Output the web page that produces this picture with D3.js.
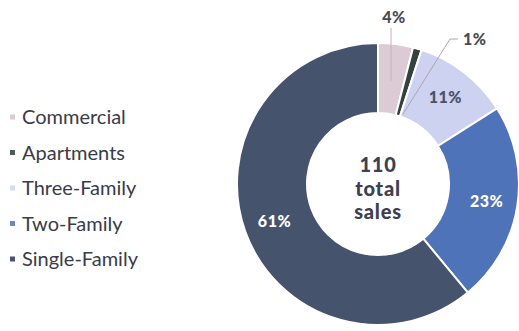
<!DOCTYPE html>
<html>
<head>
<meta charset="utf-8">
<script src="https://cdn.jsdelivr.net/npm/d3@7"></script>
<style>
  html, body { margin: 0; padding: 0; background: #fff; }
  svg { display: block; }
</style>
</head>
<body>
<svg id="chart" width="519" height="331"></svg>
<script>
// Property sales by type (share of total, %)
const categories = ["Commercial", "Apartments", "Three-Family", "Two-Family", "Single-Family"];
const shares = [4, 1, 11, 23, 61];
const shareLabels = ["4%", "1%", "11%", "23%", "61%"];
const sliceColors = ["#dccad4", "#34413d", "#cdd2f0", "#4f73b9", "#46536d"];
const legendColors = ["#dccad4", "#4d5b55", "#d6d9f2", "#6b86c4", "#4a5470"];
const labelColors = ["#4a4a52", "#4a4a52", "#4a5068", "#ffffff", "#ffffff"];
const totalSales = 110;
const centerLines = [String(totalSales), "total", "sales"];

const svg = d3.select("#chart");
const cx = 378, cy = 184;
const outerR = 141, innerR = 71;

const pie = d3.pie().sort(null).value(d => d);
const arcs = pie(shares);
const arc = d3.arc().innerRadius(innerR).outerRadius(outerR);

const g = svg.append("g").attr("transform", `translate(${cx},${cy})`);

g.selectAll("path.slice")
  .data(arcs)
  .join("path")
  .attr("class", "slice")
  .attr("d", arc)
  .attr("fill", (d, i) => sliceColors[i])
  .attr("stroke", "#fff")
  .attr("stroke-width", 2)
  .attr("stroke-linejoin", "miter");

const pctFont = { family: "Lato, sans-serif", weight: 900, size: 16 };

// in-slice percentage labels for the larger slices
const labelArc = d3.arc().innerRadius(110).outerRadius(110);
const inside = [2, 3, 4];
g.selectAll("text.inside")
  .data(inside)
  .join("text")
  .attr("class", "inside")
  .attr("transform", i => `translate(${labelArc.centroid(arcs[i])})`)
  .attr("text-anchor", "middle")
  .attr("dy", "0.36em")
  .attr("font-family", pctFont.family)
  .attr("font-weight", pctFont.weight)
  .attr("font-size", pctFont.size)
  .attr("letter-spacing", 0.5)
  .attr("fill", i => labelColors[i])
  .text(i => shareLabels[i]);

// outside labels with leader lines for the thin slices
const pt = (angle, r) => [r * Math.sin(angle), -r * Math.cos(angle)];
const mid = d => (d.startAngle + d.endAngle) / 2;

// Commercial: vertical leader
{
  const a = arcs[0];
  const p0 = pt(mid(a), 104);
  g.append("path")
    .attr("d", d3.line()([p0, [p0[0], -outerR - 15]]))
    .attr("fill", "none")
    .attr("stroke", "#c9aeb9")
    .attr("stroke-width", 1);
  g.append("text")
    .attr("x", p0[0] + 3)
    .attr("y", -outerR - 20)
    .attr("text-anchor", "middle")
    .attr("font-family", pctFont.family)
    .attr("font-weight", pctFont.weight)
    .attr("font-size", pctFont.size)
    .attr("letter-spacing", 0.5)
    .attr("fill", labelColors[0])
    .text(shareLabels[0]);
}
// Apartments: angled leader with a short hook
{
  const a = arcs[1];
  const p0 = pt(mid(a) + 0.06, 74);
  const p1 = [72, -outerR - 4];
  const p2 = [p1[0] + 8, p1[1]];
  g.append("path")
    .attr("d", d3.line()([p0, p1, p2]))
    .attr("fill", "none")
    .attr("stroke", "#a9a9ad")
    .attr("stroke-width", 1);
  g.append("text")
    .attr("x", p2[0] + 5)
    .attr("y", p2[1])
    .attr("dy", "0.36em")
    .attr("text-anchor", "start")
    .attr("font-family", pctFont.family)
    .attr("font-weight", pctFont.weight)
    .attr("font-size", pctFont.size)
    .attr("letter-spacing", 0.5)
    .attr("fill", labelColors[1])
    .text(shareLabels[1]);
}

// centre total
g.selectAll("text.center")
  .data(centerLines)
  .join("text")
  .attr("class", "center")
  .attr("x", 0)
  .attr("y", (d, i) => -19 + i * 23.5)
  .attr("dy", "0.36em")
  .attr("text-anchor", "middle")
  .attr("font-family", "Lato, sans-serif")
  .attr("font-weight", 900)
  .attr("font-size", 20)
  .attr("letter-spacing", 0.8)
  .attr("fill", "#3d4050")
  .text(d => d);

// legend
const legend = svg.append("g").attr("transform", "translate(10,117)");
const rowH = 35.5;
const rows = legend.selectAll("g.row")
  .data(categories)
  .join("g")
  .attr("class", "row")
  .attr("transform", (d, i) => `translate(0,${i * rowH})`);
rows.append("rect")
  .attr("x", 0).attr("y", -2.5)
  .attr("width", 5).attr("height", 5)
  .attr("fill", (d, i) => legendColors[i]);
rows.append("text")
  .attr("x", 12)
  .attr("y", 0)
  .attr("dy", "0.36em")
  .attr("font-family", "Lato, sans-serif")
  .attr("font-size", 20)
  .attr("fill", "#3a3b47")
  .text(d => d);
</script>
</body>
</html>
